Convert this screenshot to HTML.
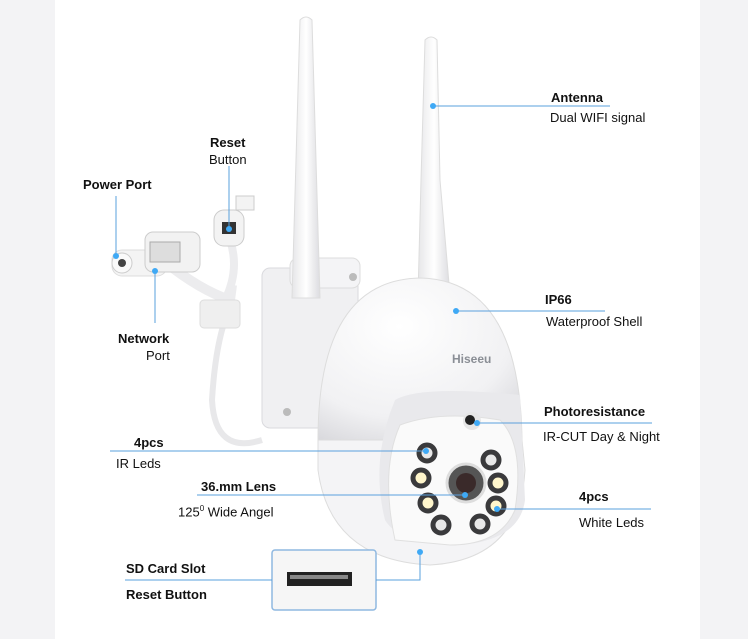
<!DOCTYPE html>
<html><head><style>
html,body{margin:0;padding:0}
body{width:748px;height:639px;background:#f3f3f5;position:relative;overflow:hidden;font-family:"Liberation Sans",sans-serif;color:#111}
.panel{position:absolute;left:55px;top:0;width:645px;height:639px;background:#fff}
.t{position:absolute;font-size:13px;white-space:nowrap}
.b{font-weight:bold}
</style></head><body>
<div class="panel"></div>
<svg width="748" height="639" style="position:absolute;left:0;top:0">
<defs>
<radialGradient id="dome" cx="0.4" cy="0.3" r="0.8"><stop offset="0" stop-color="#ffffff"/><stop offset="0.7" stop-color="#f1f1f3"/><stop offset="1" stop-color="#d9d9dd"/></radialGradient>
<linearGradient id="ant" x1="0" x2="1"><stop offset="0" stop-color="#e6e6e8"/><stop offset="0.5" stop-color="#fff"/><stop offset="1" stop-color="#dcdce0"/></linearGradient>
</defs>
<!-- bracket -->
<rect x="262" y="268" width="96" height="160" rx="8" fill="#f0f0f2" stroke="#dadade"/>
<rect x="290" y="258" width="70" height="30" rx="8" fill="#f4f4f6" stroke="#ddd"/>
<circle cx="353" cy="277" r="4" fill="#bbb"/><circle cx="287" cy="412" r="4" fill="#bbb"/>
<!-- cables -->
<path d="M262 440 Q215 455 212 400 Q215 350 225 320" stroke="#e8e8ea" stroke-width="6" fill="none"/>
<path d="M165 262 Q200 290 230 300 L232 285" stroke="#ececee" stroke-width="10" fill="none"/>
<path d="M230 240 Q240 270 225 300" stroke="#ececee" stroke-width="8" fill="none"/>
<rect x="200" y="300" width="40" height="28" rx="4" fill="#efefef" stroke="#ddd"/>
<!-- power port -->
<rect x="112" y="250" width="55" height="26" rx="10" fill="#f4f4f4" stroke="#ddd"/>
<circle cx="122" cy="263" r="10" fill="#fafafa" stroke="#ccc"/><circle cx="122" cy="263" r="4" fill="#444"/>
<!-- network -->
<rect x="145" y="232" width="55" height="40" rx="8" fill="#f2f2f2" stroke="#ccc"/>
<rect x="150" y="242" width="30" height="20" fill="#ddd" stroke="#aaa"/>
<!-- reset -->
<rect x="214" y="210" width="30" height="36" rx="10" fill="#f3f3f3" stroke="#ccc"/>
<rect x="222" y="222" width="14" height="12" fill="#333"/>
<rect x="236" y="196" width="18" height="14" fill="#f3f3f3" stroke="#ccc"/>
<!-- antennas -->
<path d="M300 20 Q306 14 312 20 L316 160 L320 298 L292 298 L296 160 Z" fill="url(#ant)" stroke="#ddd"/>
<path d="M425 40 Q431 34 437 40 L440 180 L450 295 L418 295 L421 180 Z" fill="url(#ant)" stroke="#ddd"/>
<!-- dome -->
<path d="M318 440 Q318 280 420 278 Q520 280 522 440 Z" fill="url(#dome)" stroke="#ddd"/>
<path d="M318 440 L318 470 Q330 560 430 565 Q520 560 525 470 L522 440 Z" fill="#f4f4f6" stroke="#ddd"/>
<path d="M385 520 Q370 460 395 400 Q420 385 520 395 L525 500 Q520 540 460 545 Q400 545 385 520Z" fill="#e9e9ec"/>
<path d="M395 540 Q380 470 400 425 Q440 410 500 420 Q525 445 515 510 Q500 545 450 545 Z" fill="#fafafa" stroke="#e0e0e0"/>
<text x="452" y="363" font-size="12" font-weight="bold" fill="#8a8e95" font-family="Liberation Sans">Hiseeu</text>
<!-- leds -->
<g stroke="#3a3a3c" stroke-width="5">
<circle cx="427" cy="453" r="8" fill="#e8e8e8"/><circle cx="491" cy="460" r="8" fill="#e8e8e8"/><circle cx="421" cy="478" r="8" fill="#fff6cc"/><circle cx="498" cy="483" r="8" fill="#fff6cc"/>
<circle cx="428" cy="503" r="8" fill="#fff6cc"/><circle cx="496" cy="506" r="8" fill="#fff6cc"/><circle cx="441" cy="525" r="8" fill="#e8e8e8"/><circle cx="480" cy="524" r="8" fill="#e8e8e8"/>
</g>
<circle cx="466" cy="483" r="19" fill="#555" stroke="#ddd" stroke-width="3"/><circle cx="466" cy="483" r="10" fill="#3a2a2a"/>
<circle cx="472" cy="421" r="9" fill="#e6e6e6"/><circle cx="470" cy="420" r="5" fill="#222"/>
<!-- sd inset -->
<rect x="272" y="550" width="104" height="60" rx="3" fill="#f6f6f6" stroke="#8fb8e0" stroke-width="1.5"/>
<rect x="287" y="572" width="65" height="14" fill="#222"/><rect x="290" y="575" width="58" height="4" fill="#888"/>
<!-- lines -->
<g stroke="#5aa0dd" stroke-width="1" fill="none">
<path d="M433 106 H610"/><path d="M456 311 H605"/><path d="M477 423 H652"/>
<path d="M110 451 H426"/><path d="M197 495 H465"/><path d="M497 509 H651"/>
<path d="M125 580 H272"/><path d="M376 580 H420 V552"/>
<path d="M116 196 V256"/><path d="M229 166 V229"/><path d="M155 271 V323"/>
</g>
<g fill="#3fa9f5">
<circle cx="433" cy="106" r="3"/><circle cx="456" cy="311" r="3"/><circle cx="477" cy="423" r="3"/>
<circle cx="426" cy="451" r="3"/><circle cx="465" cy="495" r="3"/><circle cx="497" cy="509" r="3"/>
<circle cx="420" cy="552" r="3"/><circle cx="116" cy="256" r="3"/><circle cx="229" cy="229" r="3"/><circle cx="155" cy="271" r="3"/>
</g>
</svg>
<div class="t b" style="left:551px;top:90px">Antenna</div>
<div class="t" style="left:550px;top:110px">Dual WIFI signal</div>
<div class="t b" style="left:210px;top:135px">Reset</div>
<div class="t" style="left:209px;top:152px">Button</div>
<div class="t b" style="left:83px;top:177px">Power Port</div>
<div class="t b" style="left:118px;top:331px">Network</div>
<div class="t" style="left:146px;top:348px">Port</div>
<div class="t b" style="left:545px;top:292px">IP66</div>
<div class="t" style="left:546px;top:314px">Waterproof Shell</div>
<div class="t b" style="left:544px;top:404px">Photoresistance</div>
<div class="t" style="left:543px;top:429px">IR-CUT Day &amp; Night</div>
<div class="t b" style="left:134px;top:435px">4pcs</div>
<div class="t" style="left:116px;top:456px">IR Leds</div>
<div class="t b" style="left:201px;top:479px">36.mm Lens</div>
<div class="t" style="left:178px;top:504px">125<sup style="font-size:8px">0</sup> Wide Angel</div>
<div class="t b" style="left:579px;top:489px">4pcs</div>
<div class="t" style="left:579px;top:515px">White Leds</div>
<div class="t b" style="left:126px;top:561px">SD Card Slot</div>
<div class="t b" style="left:126px;top:587px">Reset Button</div>
</body></html>
